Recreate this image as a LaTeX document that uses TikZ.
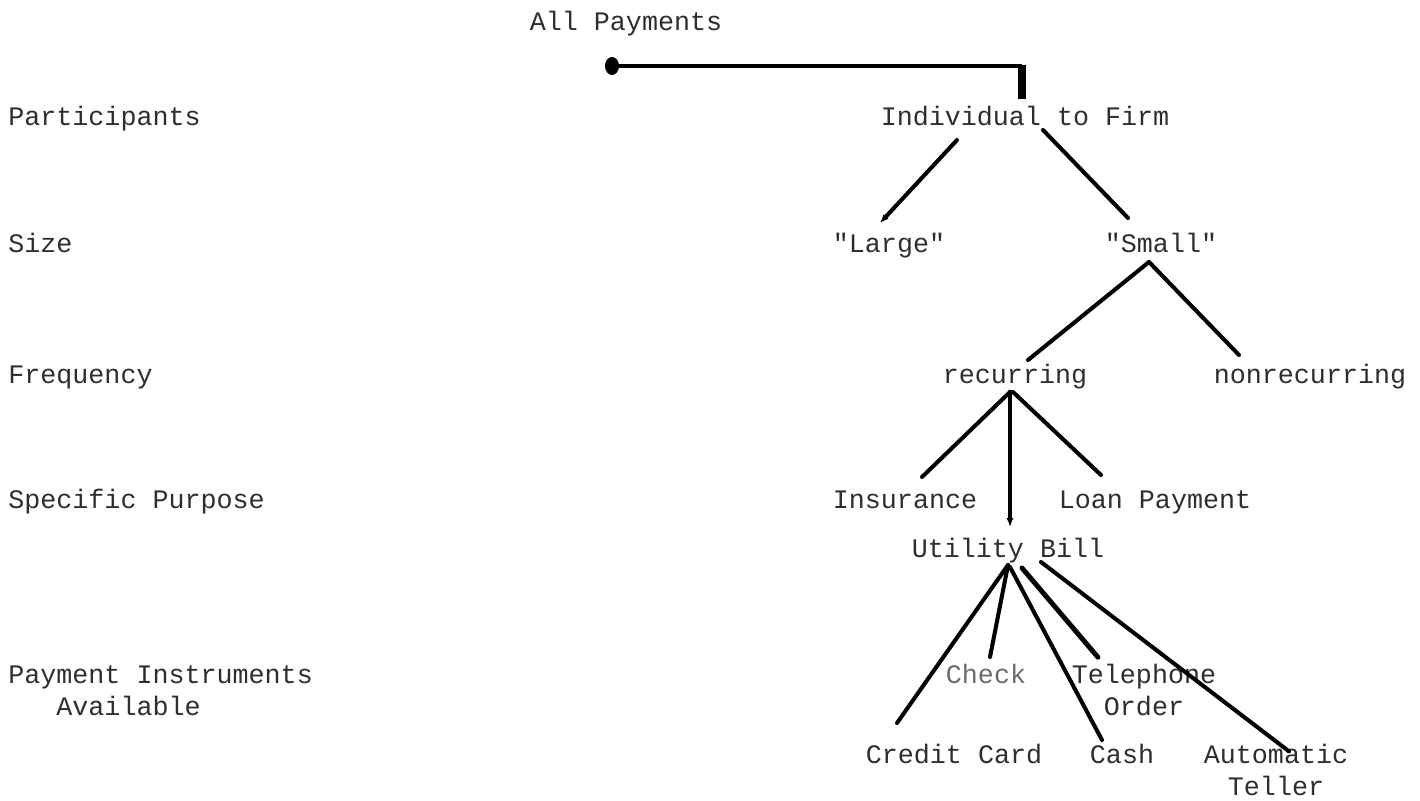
\documentclass[tikz,border=0pt]{standalone}
\usepackage{fontspec}
\setmonofont{Liberation Mono}
\usetikzlibrary{calc,arrows.meta}
\tikzset{
  lbl/.style={font=\ttfamily\fontsize{15.2}{18.2}\selectfont, text=black!82, inner sep=0pt, anchor=base, align=center},
  rowlbl/.style={lbl, anchor=base west, align=left},
  link/.style={line width=2.3pt, line cap=round},
  tiplink/.style={link, -{Latex[length=5pt,width=4pt]}},
}

\begin{document}
\begin{tikzpicture}[x=0.02cm, y=-0.02cm]
  %%%%% START %%%%%
  \useasboundingbox (0,0) rectangle (1420,801);

  \node[rowlbl] (participants) at (8,125) {Participants};
  \node[rowlbl] (size) at (8,252) {Size};
  \node[rowlbl] (frequency) at (8,383) {Frequency};
  \node[rowlbl] (purpose) at (8,508) {Specific Purpose};
  \node[rowlbl] (instruments) at (8,715) {Payment Instruments\\\phantom{Pay}Available};

  \node[lbl] (allpay) at (626,31) {All Payments};
  \node[lbl] (ind) at (1025,125) {Individual to Firm};

  \node[lbl] (large) at (889,252) {"Large"};
  \node[lbl] (small) at (1161,252) {"Small"};

  \node[lbl] (rec) at (1015,383) {recurring};
  \node[lbl] (nonrec) at (1310,383) {nonrecurring};

  \node[lbl] (ins) at (905,508) {Insurance};
  \node[lbl] (loan) at (1155,508) {Loan Payment};
  \node[lbl] (util) at (1008,557) {Utility Bill};

  \node[lbl, text=black!58] (check) at (986,683) {Check};
  \node[lbl] (tel) at (1144,715) {Telephone\\Order};
  \node[lbl] (credit) at (954,763) {Credit Card};
  \node[lbl] (cash) at (1122,763) {Cash};
  \node[lbl] (auto) at (1276,795) {Automatic\\Teller};

  \coordinate (root) at ($(allpay.base)+(-14,35)$);
  \fill (root) ellipse (7 and 9);
  \draw[line width=2.8pt] (root) -- ($(ind.base)+(-3,-59)$);
  \draw[line width=4pt] ($(ind.base)+(-3,-60)$) -- ($(ind.base)+(-3,-26)$);

  \draw[tiplink] ($(ind.base)+(-68,15)$) -- ($(large.base)+(-9,-29)$);
  \draw[link] ($(ind.base)+(18,5)$) -- ($(small.base)+(-33,-34)$);

  \draw[link] ($(small.base)+(-12,10)$) -- ($(rec.base)+(13,-23)$);
  \draw[link] ($(small.base)+(-12,10)$) -- ($(nonrec.base)+(-71,-28)$);

  \draw[link] ($(rec.base)+(-5,9)$) -- ($(ins.base)+(17,-31)$);
  \draw[tiplink, line width=2.8pt] ($(rec.base)+(-5,9)$) -- ($(util.base)+(2,-30)$);
  \draw[link] ($(rec.base)+(-2,9)$) -- ($(loan.base)+(-54,-33)$);

  \draw[link] ($(util.base)+(0,8)$) -- ($(credit.base)+(-57,-40)$);
  \draw[link] ($(util.base)+(0,8)$) -- ($(check.base)+(4,-26)$);
  \draw[link] ($(util.base)+(2,10)$) -- ($(cash.base)+(-20,-23)$);
  \draw[link, line width=2.8pt] ($(util.base)+(14,11)$) -- ($(tel.north)+(-46,-6)$);
  \draw[link] ($(util.base)+(33,5)$) -- ($(auto.north)+(13,8)$);

  %%%%% END %%%%%
\end{tikzpicture}
\end{document}
